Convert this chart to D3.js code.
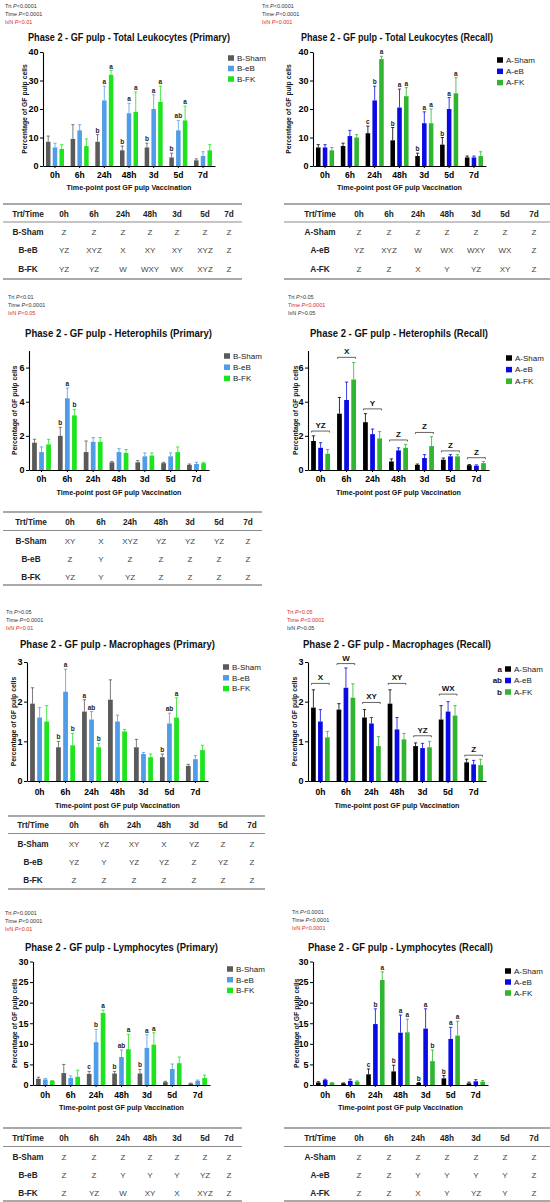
<!DOCTYPE html>
<html>
<head>
<meta charset="utf-8">
<script src="https://cdn.jsdelivr.net/npm/d3@7"></script>
<style>
  body { margin: 0; background: #fff; }
  svg { display: block; }
  text { font-family: "Liberation Sans", Arial, sans-serif; }
</style>
</head>
<body>
<svg id="fig" width="550" height="1202"></svg>
<script>
// ---- data ----
const times = ['0h', '6h', '24h', '48h', '3d', '5d', '7d'];
const primaryGroups = ['B-Sham', 'B-eB', 'B-FK'];
const recallGroups = ['A-Sham', 'A-eB', 'A-FK'];
const primaryColors = ['#5a5a5a', '#4f9de6', '#1ee41e'];
const recallColors = ['#000000', '#0a0ae6', '#2fb52f'];

// total leukocytes (primary)
const leukoPrimMeans = [[8.5, 9.5, 8.5, 5.5, 6.5, 3, 2], [6.5, 12.5, 23, 18.5, 20, 12.5, 3.5], [6, 7, 32, 19, 22.5, 16, 5.5]];
const leukoPrimErrs = [[10.5, 14.5, 11, 7, 8, 4.5, 2.5], [8, 14.5, 28, 22, 25, 16, 5], [7.5, 9.5, 33.5, 26, 28, 21, 7.5]];
const leukoPrimLetters = [['', '', 'b', 'b', 'b', 'b', ''], ['', '', 'a', 'a', 'a', 'ab', ''], ['', '', 'a', 'a', 'a', 'a', '']];
const leukoPrimStats = [['Trt', '<0.0001', 0], ['Time', '<0.0001', 0], ['IxN', '<0.01', 1]];
const leukoPrimTable = [['B-Sham', 'Z', 'Z', 'Z', 'Z', 'Z', 'Z', 'Z'], ['B-eB', 'YZ', 'XYZ', 'X', 'XY', 'XY', 'XYZ', 'Z'], ['B-FK', 'YZ', 'YZ', 'W', 'WXY', 'WX', 'XYZ', 'Z']];

// total leukocytes (recall)
const leukoRecMeans = [[6.5, 7, 11.5, 9, 3.5, 7.5, 3], [6.5, 10.5, 23, 20.5, 15, 20, 3], [5.5, 10, 37.5, 24.5, 15, 25.5, 3.5]];
const leukoRecErrs = [[7.5, 8, 14, 13.5, 4.5, 10, 3.5], [7.5, 12.5, 28, 27, 19, 24, 3.5], [6.5, 11, 38.5, 27.5, 20, 31, 5]];
const leukoRecLetters = [['', '', 'c', 'b', 'b', 'b', ''], ['', '', 'b', 'a', 'a', 'a', ''], ['', '', 'a', 'a', 'a', 'a', '']];
const leukoRecStats = [['Trt', '<0.0001', 0], ['Time', '<0.0001', 0], ['IxN', '<0.001', 1]];
const leukoRecTable = [['A-Sham', 'Z', 'Z', 'Z', 'Z', 'Z', 'Z', 'Z'], ['A-eB', 'YZ', 'XYZ', 'W', 'WX', 'WXY', 'WX', 'Z'], ['A-FK', 'Z', 'Z', 'X', 'Y', 'YZ', 'XY', 'Z']];

// heterophils (primary)
const hetPrimMeans = [[1.6, 2.0, 1.05, 0.45, 0.45, 0.4, 0.3], [1.05, 4.2, 1.65, 1.05, 0.8, 0.8, 0.35], [1.5, 3.2, 1.65, 1.0, 0.85, 1.05, 0.4]];
const hetPrimErrs = [[1.8, 2.5, 1.7, 0.5, 0.55, 0.45, 0.35], [1.35, 4.8, 1.9, 1.25, 1.0, 1.0, 0.45], [1.8, 3.55, 1.9, 1.2, 1.0, 1.35, 0.45]];
const hetPrimLetters = [['', 'b', '', '', '', '', ''], ['', 'a', '', '', '', '', ''], ['', 'b', '', '', '', '', '']];
const hetPrimStats = [['Trt', '<0.01', 0], ['Time', '<0.0001', 0], ['IxN', '<0.05', 1]];
const hetPrimTable = [['B-Sham', 'XY', 'X', 'XYZ', 'YZ', 'YZ', 'YZ', 'Z'], ['B-eB', 'Z', 'Y', 'Z', 'Z', 'Z', 'Z', 'Z'], ['B-FK', 'YZ', 'Y', 'YZ', 'Z', 'Z', 'Z', 'Z']];

// heterophils (recall)
const hetRecMeans = [[1.7, 3.3, 2.8, 0.5, 0.3, 0.6, 0.28], [1.3, 4.1, 2.1, 1.15, 0.7, 0.8, 0.25], [0.95, 5.3, 1.85, 1.3, 1.4, 0.8, 0.4]];
const hetRecErrs = [[2.0, 4.25, 3.3, 0.65, 0.35, 0.7, 0.32], [1.6, 5.15, 2.4, 1.3, 0.9, 0.9, 0.3], [1.2, 6.3, 2.25, 1.5, 1.95, 0.9, 0.5]];
const hetRecStats = [['Trt', '>0.05', 0], ['Time', '<0.0001', 1], ['IxN', '>0.05', 0]];
const hetRecBracketLabels = ['YZ', 'X', 'Y', 'Z', 'Z', 'Z', 'Z'];
const hetRecBracketLevels = [2.28, 6.6, 3.58, 1.76, 2.2, 1.12, 0.72];

// macrophages (primary)
const macPrimMeans = [[1.95, 0.85, 1.75, 2.05, 0.85, 0.6, 0.38], [1.6, 2.25, 1.55, 1.5, 0.68, 1.45, 0.55], [1.5, 0.9, 0.85, 1.25, 0.6, 1.6, 0.78]];
const macPrimErrs = [[2.35, 1.0, 2.05, 2.55, 1.05, 0.68, 0.42], [1.85, 2.82, 1.75, 1.66, 0.72, 1.71, 0.64], [1.9, 1.2, 0.95, 1.3, 0.68, 2.1, 0.9]];
const macPrimLetters = [['', 'b', 'a', '', '', 'b', ''], ['', 'a', 'ab', '', '', 'ab', ''], ['', 'b', 'b', '', '', 'a', '']];
const macPrimStats = [['Trt', '>0.05', 0], ['Time', '<0.0001', 0], ['IxN', '<0.01', 1]];
const macPrimTable = [['B-Sham', 'XY', 'YZ', 'XY', 'X', 'YZ', 'Z', 'Z'], ['B-eB', 'YZ', 'Y', 'YZ', 'YZ', 'Z', 'YZ', 'Z'], ['B-FK', 'Z', 'Z', 'Z', 'Z', 'Z', 'Z', 'Z']];

// macrophages (recall)
const macRecMeans = [[1.85, 1.8, 1.6, 1.95, 0.88, 1.55, 0.47], [1.5, 2.35, 1.45, 1.3, 0.83, 1.75, 0.42], [1.1, 2.1, 0.88, 1.05, 0.85, 1.65, 0.4]];
const macRecErrs = [[2.3, 1.95, 1.8, 2.3, 0.96, 1.9, 0.55], [1.8, 2.85, 1.6, 1.6, 0.95, 2.0, 0.52], [1.25, 2.45, 1.12, 1.2, 1.0, 1.9, 0.55]];
const macRecStats = [['Trt', '<0.05', 1], ['Time', '<0.0001', 1], ['IxN', '>0.05', 0]];
const macRecBracketLabels = ['X', 'W', 'XY', 'XY', 'YZ', 'WX', 'Z'];
const macRecBracketLevels = [2.46, 2.96, 1.98, 2.46, 1.14, 2.19, 0.65];
const macRecLegendLetters = ['a', 'ab', 'b'];

// lymphocytes (primary)
const lymPrimMeans = [[1.5, 2.9, 2.7, 2.8, 2.8, 0.7, 0.35], [1.35, 1.7, 10.4, 6.8, 9.0, 3.9, 1.0], [1.0, 2.0, 17.5, 8.7, 9.8, 5.3, 1.7]];
const lymPrimErrs = [[1.9, 5.0, 3.3, 3.3, 3.8, 0.9, 0.45], [1.6, 2.2, 13.5, 8.5, 12.2, 5.1, 1.2], [1.1, 3.6, 18.2, 12.3, 12.7, 6.8, 2.4]];
const lymPrimLetters = [['', '', 'c', 'b', 'b', '', ''], ['', '', 'b', 'ab', 'a', '', ''], ['', '', 'a', 'a', 'a', '', '']];
const lymPrimStats = [['Trt', '<0.0001', 0], ['Time', '<0.0001', 0], ['IxN', '<0.01', 1]];
const lymPrimTable = [['B-Sham', 'Z', 'Z', 'Z', 'Z', 'Z', 'Z', 'Z'], ['B-eB', 'Z', 'Z', 'Y', 'Y', 'Y', 'YZ', 'Z'], ['B-FK', 'Z', 'YZ', 'W', 'XY', 'X', 'XYZ', 'Z']];

// lymphocytes (recall)
const lymRecMeans = [[0.6, 0.4, 2.6, 3.3, 0.5, 1.6, 0.4], [1.2, 1.0, 14.8, 12.7, 13.7, 11.2, 0.9], [0.5, 0.8, 25.5, 12.8, 5.8, 12, 0.8]];
const lymRecErrs = [[0.8, 0.5, 3.9, 4.8, 0.6, 2.3, 0.7], [1.4, 1.4, 18.5, 17, 18.5, 14, 1.3], [0.6, 1.0, 27.5, 16, 8.5, 15.5, 1.1]];
const lymRecLetters = [['', '', 'c', 'b', 'b', 'b', ''], ['', '', 'b', 'a', 'a', 'a', ''], ['', '', 'a', 'a', 'b', 'a', '']];
const lymRecStats = [['Trt', '<0.0001', 0], ['Time', '<0.0001', 0], ['IxN', '<0.0001', 1]];
const lymRecTable = [['A-Sham', 'Z', 'Z', 'Z', 'Z', 'Z', 'Z', 'Z'], ['A-eB', 'Z', 'Z', 'Y', 'Y', 'Y', 'Y', 'Z'], ['A-FK', 'Z', 'Z', 'X', 'Y', 'YZ', 'Y', 'Z']];

// ---- layout ----
const svg = d3.select('#fig');
const RED = '#d42a2a';

const panels = [
  {means: leukoPrimMeans, errs: leukoPrimErrs, letters: leukoPrimLetters, groups: primaryGroups, colors: primaryColors, stats: leukoPrimStats,
   title: 'Phase 2 - GF pulp - Total Leukocytes (Primary)', t0: 28, t1: 230, ty: 37, sx: 5, sy: 6,
   yMax: 40, ticks: [0, 10, 20, 30, 40], x0: 43, x1: 215, yBase: 166, yTop: 52, tickY: 175, xTitleY: 187, yLabX: 25,
   legX: 228, legY: 58, legDy: 10.5},
  {means: leukoRecMeans, errs: leukoRecErrs, letters: leukoRecLetters, groups: recallGroups, colors: recallColors, stats: leukoRecStats,
   title: 'Phase 2 - GF pulp - Total Leukocytes (Recall)', t0: 301, t1: 493, ty: 37, sx: 262, sy: 6,
   yMax: 40, ticks: [0, 10, 20, 30, 40], x0: 313, x1: 486, yBase: 166, yTop: 52, tickY: 175, xTitleY: 187, yLabX: 289,
   legX: 497, legY: 60, legDy: 11.3},
  {means: hetPrimMeans, errs: hetPrimErrs, letters: hetPrimLetters, groups: primaryGroups, colors: primaryColors, stats: hetPrimStats,
   title: 'Phase 2 - GF pulp - Heterophils (Primary)', t0: 25, t1: 212, ty: 333, sx: 8, sy: 297,
   yMax: 7, ticks: [0, 2, 4, 6], x0: 29, x1: 209, yBase: 470, yTop: 350.5, tickY: 479, xTitleY: 492, yLabX: 15,
   legX: 224, legY: 356, legDy: 11.2},
  {means: hetRecMeans, errs: hetRecErrs, groups: recallGroups, colors: recallColors, stats: hetRecStats,
   brackets: hetRecBracketLabels, levels: hetRecBracketLevels,
   title: 'Phase 2 - GF pulp - Heterophils (Recall)', t0: 310, t1: 488, ty: 333, sx: 288, sy: 297,
   yMax: 7, ticks: [0, 2, 4, 6], x0: 308, x1: 489, yBase: 470, yTop: 350.5, tickY: 479, xTitleY: 492, yLabX: 296,
   legX: 506, legY: 358, legDy: 11.6},
  {means: macPrimMeans, errs: macPrimErrs, letters: macPrimLetters, groups: primaryGroups, colors: primaryColors, stats: macPrimStats,
   title: 'Phase 2 - GF pulp - Macrophages (Primary)', t0: 20, t1: 215, ty: 644, sx: 6, sy: 612,
   yMax: 3, ticks: [0, 1, 2, 3], x0: 27, x1: 208, yBase: 781, yTop: 662, tickY: 792, xTitleY: 805, yLabX: 14,
   legX: 223, legY: 667, legDy: 10.8},
  {means: macRecMeans, errs: macRecErrs, groups: recallGroups, colors: recallColors, stats: macRecStats,
   brackets: macRecBracketLabels, levels: macRecBracketLevels, legLetters: macRecLegendLetters,
   title: 'Phase 2 - GF pulp - Macrophages (Recall)', t0: 303, t1: 491, ty: 644, sx: 287, sy: 612,
   yMax: 3, ticks: [0, 1, 2, 3], x0: 308, x1: 486, yBase: 781, yTop: 662, tickY: 792, xTitleY: 805, yLabX: 295,
   legX: 505, legY: 669, legDy: 11.5},
  {means: lymPrimMeans, errs: lymPrimErrs, letters: lymPrimLetters, groups: primaryGroups, colors: primaryColors, stats: lymPrimStats,
   title: 'Phase 2 - GF pulp - Lymphocytes (Primary)', t0: 25, t1: 218, ty: 947, sx: 5, sy: 913,
   yMax: 30, ticks: [0, 5, 10, 15, 20, 25, 30], x0: 33, x1: 210, yBase: 1085, yTop: 961.5, tickY: 1095, xTitleY: 1107, yLabX: 15,
   legX: 227, legY: 969, legDy: 10.7},
  {means: lymRecMeans, errs: lymRecErrs, letters: lymRecLetters, groups: recallGroups, colors: recallColors, stats: lymRecStats,
   title: 'Phase 2 - GF pulp - Lymphocytes (Recall)', t0: 308, t1: 493, ty: 947, sx: 292, sy: 912,
   yMax: 30, ticks: [0, 5, 10, 15, 20, 25, 30], x0: 313, x1: 488, yBase: 1085, yTop: 961.5, tickY: 1095, xTitleY: 1107, yLabX: 297,
   legX: 505, legY: 971, legDy: 11}
];

const leftCols = [28, 64, 94, 123, 150, 177, 205, 229];
const rightCols = [320, 359, 389, 418, 447, 476, 505, 534];
const tables = [
  {rows: leukoPrimTable, l: 3, r: 242, cols: leftCols, top: 204, head: 214, rowY: [232, 250.5, 269], bottom: 279},
  {rows: leukoRecTable, l: 284, r: 550, cols: rightCols, top: 204, head: 214, rowY: [232, 250.5, 269], bottom: 279},
  {rows: hetPrimTable, l: 3, r: 262, cols: [31, 70, 101, 130, 161, 190, 219, 248], top: 512, head: 522, rowY: [541, 559, 577], bottom: 585},
  {rows: macPrimTable, l: 8, r: 265, cols: [33, 74, 104, 134, 164, 194, 223, 252], top: 816, head: 825, rowY: [844, 862, 880], bottom: 889},
  {rows: lymPrimTable, l: 3, r: 242, cols: leftCols, top: 1128, head: 1138, rowY: [1157, 1175, 1193], bottom: 1201},
  {rows: lymRecTable, l: 284, r: 550, cols: rightCols, top: 1128, head: 1138, rowY: [1157, 1175, 1193], bottom: 1201}
];

function drawStats(g, p) {
  p.stats.forEach((s, i) => {
    const t = g.append('text')
      .attr('x', p.sx).attr('y', p.sy + i * 8 + 2)
      .attr('font-size', 5.5).attr('fill', s[2] ? RED : '#333');
    t.append('tspan').text(s[0] + ' ');
    t.append('tspan').attr('font-style', 'italic').text('P');
    t.append('tspan').text(s[1]);
  });
}

function drawChart(p) {
  const g = svg.append('g');
  drawStats(g, p);

  g.append('text')
    .attr('x', p.t0).attr('y', p.ty + 3.5)
    .attr('font-size', 10).attr('font-weight', 'bold').attr('fill', '#111')
    .attr('textLength', p.t1 - p.t0).attr('lengthAdjust', 'spacingAndGlyphs')
    .text(p.title);

  const y = d3.scaleLinear().domain([0, p.yMax]).range([p.yBase, p.yTop]);
  const x = d3.scaleBand().domain(times).range([p.x0, p.x1]).paddingInner(0.27).paddingOuter(0.12);
  const xs = d3.scaleBand().domain([0, 1, 2]).range([0, x.bandwidth()]).paddingInner(0.33);
  const bw = xs.bandwidth();

  p.means.forEach((vals, gi) => {
    const col = p.colors[gi];
    const rows = vals.map((v, i) => ({t: times[i], v: v, e: p.errs[gi][i], l: p.letters ? p.letters[gi][i] : ''}));
    const bg = g.append('g');
    bg.selectAll('path.err').data(rows).join('path').attr('class', 'err')
      .attr('d', d => {
        const cx = x(d.t) + xs(gi) + bw / 2;
        return `M${cx},${y(d.v)}V${y(d.e)}M${cx - bw * 0.35},${y(d.e)}H${cx + bw * 0.35}`;
      })
      .attr('stroke', col).attr('stroke-width', 0.8).attr('fill', 'none');
    bg.selectAll('rect').data(rows).join('rect')
      .attr('x', d => x(d.t) + xs(gi)).attr('y', d => y(d.v))
      .attr('width', bw).attr('height', d => y(0) - y(d.v))
      .attr('fill', col);
    bg.selectAll('text').data(rows.filter(d => d.l)).join('text')
      .attr('x', d => x(d.t) + xs(gi) + bw / 2).attr('y', d => y(d.e) - 2)
      .attr('text-anchor', 'middle').attr('font-size', 6.5).attr('font-weight', 'bold').attr('fill', '#222')
      .text(d => d.l);
  });

  if (p.brackets) {
    const br = g.append('g');
    p.brackets.forEach((lab, i) => {
      const xa = x(times[i]) + 0.5, xb = x(times[i]) + x.bandwidth() - 0.5, yy = y(p.levels[i]);
      br.append('path')
        .attr('d', `M${xa},${yy + 1.5}V${yy}H${xb}V${yy + 1.5}`)
        .attr('stroke', '#222').attr('stroke-width', 0.7).attr('fill', 'none');
      br.append('text')
        .attr('x', (xa + xb) / 2).attr('y', yy - 3)
        .attr('text-anchor', 'middle').attr('font-size', 8).attr('font-weight', 'bold').attr('fill', '#111')
        .text(lab);
    });
  }

  // axes
  const ya = g.append('g').attr('transform', `translate(${p.x0},0)`)
    .call(d3.axisLeft(y).tickValues(p.ticks).tickSize(3).tickSizeOuter(0).tickPadding(1.5).tickFormat(d3.format('d')));
  ya.select('.domain').attr('stroke', '#000').attr('stroke-width', 1.1);
  ya.selectAll('.tick line').attr('stroke', '#000').attr('stroke-width', 1);
  ya.selectAll('.tick text').attr('font-size', 9).attr('font-weight', 'bold').attr('fill', '#000')
    .attr('font-family', '"Liberation Sans", Arial, sans-serif');

  const xa = g.append('g').attr('transform', `translate(0,${p.yBase})`)
    .call(d3.axisBottom(x).tickSize(2).tickSizeOuter(0));
  xa.select('.domain').attr('stroke', '#000').attr('stroke-width', 1.1);
  xa.selectAll('.tick line').attr('stroke', '#000');
  xa.selectAll('.tick text').attr('y', p.tickY - p.yBase).attr('dy', '0.35em')
    .attr('font-size', 8.5).attr('font-weight', 'bold').attr('fill', '#000')
    .attr('font-family', '"Liberation Sans", Arial, sans-serif');

  g.append('text')
    .attr('x', (p.x0 + p.x1) / 2).attr('y', p.xTitleY).attr('dy', '0.35em')
    .attr('text-anchor', 'middle').attr('font-size', 7.2).attr('font-weight', 'bold').attr('fill', '#111')
    .text('Time-point post GF pulp Vaccination');

  g.append('text')
    .attr('transform', `translate(${p.yLabX},${(p.yBase + p.yTop) / 2}) rotate(-90)`)
    .attr('dy', '0.35em').attr('text-anchor', 'middle')
    .attr('font-size', 6.8).attr('font-weight', 'bold').attr('fill', '#111')
    .text('Percentage of GF pulp cells');

  // legend
  const lg = g.append('g');
  p.groups.forEach((name, i) => {
    const ly = p.legY + i * p.legDy;
    lg.append('rect').attr('x', p.legX).attr('y', ly - 2.75).attr('width', 6).attr('height', 5.5).attr('fill', p.colors[i]);
    lg.append('text').attr('x', p.legX + 9).attr('y', ly).attr('dy', '0.35em')
      .attr('font-size', 8).attr('fill', '#222').text(name);
    if (p.legLetters) {
      lg.append('text').attr('x', p.legX - 3).attr('y', ly).attr('dy', '0.35em').attr('text-anchor', 'end')
        .attr('font-size', 8).attr('font-weight', 'bold').attr('fill', '#111').text(p.legLetters[i]);
    }
  });
}

function drawTable(t) {
  const g = svg.append('g');
  const line = (yy, w) => g.append('line').attr('x1', t.l).attr('x2', t.r).attr('y1', yy).attr('y2', yy)
    .attr('stroke', '#8c8c8c').attr('stroke-width', w);
  line(t.top, 1.6);
  line((t.head + t.rowY[0]) / 2 - 1, 1.2);
  line(t.bottom, 1.6);
  const header = ['Trt/Time'].concat(times);
  g.selectAll('text.h').data(header).join('text').attr('class', 'h')
    .attr('x', (d, i) => t.cols[i]).attr('y', t.head).attr('dy', '0.35em')
    .attr('text-anchor', 'middle').attr('font-size', 8.2).attr('font-weight', 'bold').attr('fill', '#222')
    .text(d => d);
  t.rows.forEach((row, ri) => {
    g.selectAll(null).data(row).join('text')
      .attr('x', (d, i) => t.cols[i]).attr('y', t.rowY[ri]).attr('dy', '0.35em')
      .attr('text-anchor', 'middle').attr('font-size', (d, i) => i === 0 ? 8.2 : 8)
      .attr('font-weight', (d, i) => i === 0 ? 'bold' : 'normal')
      .attr('fill', (d, i) => i === 0 ? '#222' : '#444')
      .text(d => d);
  });
}

panels.forEach(drawChart);
tables.forEach(drawTable);
</script>
</body>
</html>
